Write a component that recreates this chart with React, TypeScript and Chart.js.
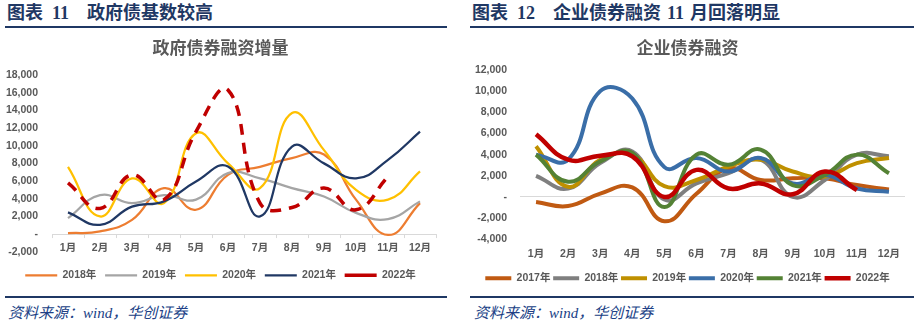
import React, { useEffect, useRef } from 'react';
import { Chart, registerables } from 'chart.js';

Chart.register(...registerables);

const months = ['1月', '2月', '3月', '4月', '5月', '6月', '7月', '8月', '9月', '10月', '11月', '12月'];

// 政府债券融资增量
const gov2018 = [100, 300, 1600, 5200, 2750, 6700, 7600, 8600, 9000, 3900, -100, 3500];
const gov2019 = [1800, 4400, 3500, 4400, 3900, 6900, 6300, 5200, 4250, 2400, 1700, 3700];
const gov2020 = [7600, 2000, 6300, 3500, 11400, 8000, 5200, 13700, 9500, 5000, 3900, 7100];
const gov2021 = [2450, 1050, 3100, 3700, 5950, 7650, 2000, 9900, 8000, 6300, 8400, 11600];
const gov2022 = [5800, 2900, 6700, 3900, 11600, 16300, 3500, 3000, 5200, 2750, 6500, null];

// 企业债券融资
const corp2017 = [-480, -860, 320, 900, -2300, 300, 2700, 1600, 1760, 1760, 1120, 700];
const corp2018 = [1990, 800, 3200, 4300, -250, 1280, 2240, 3520, 0, 1600, 4000, 3840];
const corp2019 = [4800, 960, 3520, 4000, 1030, 1600, 2880, 3520, 2400, 1920, 3200, 3680];
const corp2020 = [4000, 3520, 10000, 9300, 2820, 3680, 2400, 3680, 1280, 2080, 800, 480];
const corp2021 = [4000, 1440, 3360, 4160, -960, 4000, 3040, 4480, 1120, 2080, 4000, 2240];
const corp2022 = [5920, 3520, 3900, 3840, 0, 2560, 800, 1280, 260, 2400, 640, null];

const govRange = { min: -2000, max: 18000, step: 2000 };
const corpRange = { min: -4000, max: 12000, step: 2000 };

const FONT = '"Liberation Sans", "Noto Sans CJK SC", sans-serif';
const TITLE_FONT = '"Noto Sans CJK SC", sans-serif';
const HEAD_FONT = '"Liberation Serif", "Noto Sans CJK SC", serif';
const NAVY = '#1F3864';
const TEXT = '#595959';

const zeroTicksPlugin = {
  id: 'zeroTicks',
  beforeDatasetsDraw(chart: any, _args: any, opts: any) {
    if (!opts || !opts.enabled) return;
    const xs = chart.scales.x;
    const ys = chart.scales.y;
    const y0 = ys.getPixelForValue(0);
    const ctx = chart.ctx;
    ctx.save();
    ctx.strokeStyle = '#D9D9D9';
    ctx.lineWidth = 1;
    ctx.beginPath();
    for (let i = 0; i <= months.length; i++) {
      const x = Math.round(xs.getPixelForValue(i - 0.5)) + 0.5;
      ctx.moveTo(x, y0);
      ctx.lineTo(x, y0 + 4);
    }
    ctx.stroke();
    ctx.restore();
  },
};

function fmt(v: number) {
  if (v === 0) return '-';
  return v.toLocaleString('en-US');
}

function ChartPanel(props: {
  datasets: any[];
  title: string;
  range: { min: number; max: number; step: number };
  width: number;
  height: number;
  yWidth: number;
  yPad: number;
  rightPad: number;
  titleBottom: number;
  xPad: number;
  xMirror: boolean;
  xHeight: number;
  legendPad: number;
  legendBox: number;
  bottomPad: number;
  ticksOnZero: boolean;
}) {
  const ref = useRef<HTMLCanvasElement | null>(null);
  useEffect(() => {
    if (!ref.current) return;
    const n = props.datasets.length;
    const chart = new Chart(ref.current, {
      type: 'line',
      data: {
        labels: months,
        datasets: props.datasets.map((d, i) => ({
          label: d.label,
          data: d.data,
          borderColor: d.color,
          backgroundColor: d.color,
          borderWidth: d.width,
          borderDash: d.dash || [],
          pointRadius: 0,
          pointHoverRadius: 0,
          tension: 0.45,
          fill: false,
          spanGaps: false,
          order: n - i,
        })),
      },
      options: {
        animation: false,
        responsive: false,
        events: [],
        layout: { padding: { left: 0, right: props.rightPad, top: 0, bottom: props.bottomPad } },
        plugins: {
          title: {
            display: true,
            text: props.title,
            color: TEXT,
            font: { size: 17, weight: 'bold', family: TITLE_FONT, lineHeight: 1.2 },
            padding: { top: 5.8, bottom: props.titleBottom },
          },
          legend: {
            position: 'bottom',
            labels: {
              usePointStyle: true,
              pointStyle: 'line',
              pointStyleWidth: props.legendBox,
              color: TEXT,
              font: { size: 10.5, weight: 'bold', family: FONT },
              padding: props.legendPad,
              sort: (a: any, b: any) => a.datasetIndex - b.datasetIndex,
            },
          },
          tooltip: { enabled: false },
          zeroTicks: { enabled: props.ticksOnZero },
        } as any,
        scales: {
          x: {
            offset: true,
            grid: { display: false, drawTicks: false },
            border: { display: false },
            ticks: {
              padding: props.xPad,
              mirror: props.xMirror,
              color: TEXT,
              font: { size: 10.5, weight: 'bold', family: FONT },
              maxRotation: 0,
              autoSkip: false,
            },
            afterFit: (s: any) => {
              s.height = props.xHeight;
            },
          },
          y: {
            min: props.range.min,
            max: props.range.max,
            ticks: {
              stepSize: props.range.step,
              padding: props.yPad,
              color: TEXT,
              font: { size: 10.5, weight: 'bold', family: FONT },
              callback: (v: any) => fmt(Number(v)),
            },
            grid: {
              drawTicks: false,
              lineWidth: 1,
              color: (c: any) => (c.tick && c.tick.value === 0 ? '#D9D9D9' : 'rgba(0,0,0,0)'),
            },
            border: { display: false },
            afterFit: (s: any) => {
              s.width = props.yWidth;
            },
          },
        },
      } as any,
      plugins: [zeroTicksPlugin],
    });
    return () => chart.destroy();
  }, []);
  return <canvas ref={ref} width={props.width} height={props.height} style={{ display: 'block', width: props.width, height: props.height }} />;
}

const govSets = [
  { label: '2018年', data: gov2018, color: '#ED7D31', width: 2.25 },
  { label: '2019年', data: gov2019, color: '#A5A5A5', width: 2.25 },
  { label: '2020年', data: gov2020, color: '#FFC000', width: 2.25 },
  { label: '2021年', data: gov2021, color: '#203864', width: 2.25 },
  { label: '2022年', data: gov2022, color: '#C00000', width: 3.5, dash: [11, 8] },
];

const corpSets = [
  { label: '2017年', data: corp2017, color: '#C05A12', width: 4 },
  { label: '2018年', data: corp2018, color: '#7F7F7F', width: 4 },
  { label: '2019年', data: corp2019, color: '#BF9000', width: 4 },
  { label: '2020年', data: corp2020, color: '#3A6EA8', width: 4 },
  { label: '2021年', data: corp2021, color: '#548235', width: 4 },
  { label: '2022年', data: corp2022, color: '#C00000', width: 4.5 },
];

const abs = (l: number, t: number, w: number, h: number): React.CSSProperties => ({
  position: 'absolute',
  left: l,
  top: t,
  width: w,
  height: h,
});

function Head(props: { x: number; text: string }) {
  return (
    <div
      style={{
        position: 'absolute',
        left: props.x,
        top: 2,
        fontFamily: HEAD_FONT,
        fontWeight: 'bold',
        fontSize: 18,
        lineHeight: '22px',
        color: NAVY,
        whiteSpace: 'pre',
      }}
    >
      {props.text}
    </div>
  );
}

export default function App() {
  const srcStyle: React.CSSProperties = {
    position: 'absolute',
    top: 303,
    fontFamily: HEAD_FONT,
    fontStyle: 'italic',
    fontSize: 15,
    lineHeight: '20px',
    color: '#203F86',
    whiteSpace: 'pre',
  };
  return (
    <div style={{ position: 'absolute', left: 0, top: 0, width: 914, height: 326, background: '#fff', overflow: 'hidden' }}>
      <Head x={7} text="图表" />
      <Head x={52} text="11" />
      <Head x={87} text="政府债基数较高" />
      <Head x={472} text="图表" />
      <Head x={517} text="12" />
      <Head x={553} text="企业债券融资" />
      <Head x={667} text="11" />
      <Head x={690} text="月回落明显" />
      <div style={{ ...abs(5, 26, 442, 2), background: NAVY }} />
      <div style={{ ...abs(470, 26, 444, 2), background: NAVY }} />
      <div style={abs(5, 32, 442, 264)}>
        <ChartPanel
          datasets={govSets}
          title="政府债券融资增量"
          range={govRange}
          width={442}
          height={264}
          yWidth={47}
          yPad={14}
          rightPad={11}
          titleBottom={16.8}
          xPad={-2.6}
          xMirror={true}
          xHeight={9.5}
          legendPad={8.75}
          legendBox={32}
          bottomPad={5.5}
          ticksOnZero={true}
        />
      </div>
      <div style={abs(470, 32, 444, 264)}>
        <ChartPanel
          datasets={corpSets}
          title="企业债券融资"
          range={corpRange}
          width={444}
          height={264}
          yWidth={50}
          yPad={13}
          rightPad={9}
          titleBottom={11.8}
          xPad={8.4}
          xMirror={false}
          xHeight={31}
          legendPad={2.75}
          legendBox={26}
          bottomPad={2.5}
          ticksOnZero={false}
        />
      </div>
      <div style={{ ...abs(5, 296, 442, 2), background: NAVY }} />
      <div style={{ ...abs(470, 296, 444, 2), background: NAVY }} />
      <div style={{ ...srcStyle, left: 8 }}>{'资料来源：wind，华创证券'}</div>
      <div style={{ ...srcStyle, left: 474 }}>{'资料来源：wind，华创证券'}</div>
    </div>
  );
}
